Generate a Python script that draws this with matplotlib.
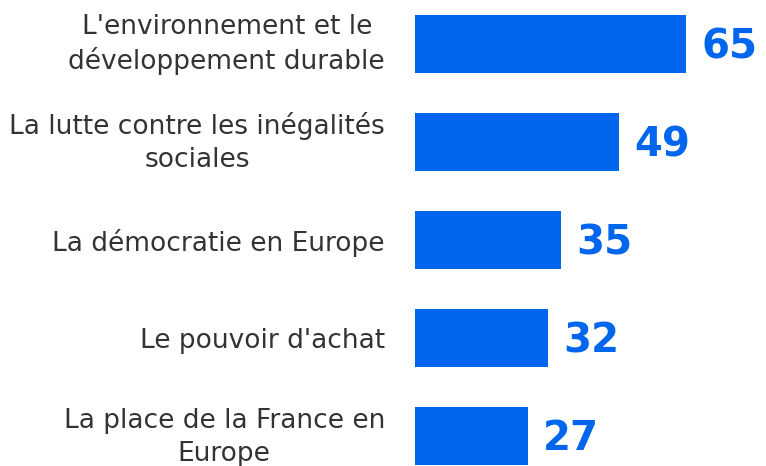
import matplotlib
matplotlib.use("Agg")
import matplotlib.pyplot as plt

categories = [
    "L'environnement et le\nd\u00e9veloppement durable",
    "La lutte contre les in\u00e9galit\u00e9s\nsociales",
    "La d\u00e9mocratie en Europe",
    "Le pouvoir d'achat",
    "La place de la France en\nEurope",
]
values = [65, 49, 35, 32, 27]

BLUE = "#0066ee"
TEXT = "#333333"

fig = plt.figure(figsize=(7.66, 4.66), dpi=100)
ax = fig.add_axes([415/766, 0, 1 - 415/766, 1])
pos = list(range(len(categories)))
bars = ax.barh(pos, values, height=0.59, color=BLUE)
ax.set_xlim(0, 351/4.17)
ax.set_ylim((466-44)/98, -44/98)
ax.set_yticks([])
ax.set_xticks([])
for s in ax.spines.values():
    s.set_visible(False)

for p, lab in zip(pos, categories):
    multi = "\n" in lab
    ax.annotate(lab, xy=(0, p), xycoords=ax.get_yaxis_transform(),
                xytext=(-30, -25 if multi else 0), textcoords="offset pixels",
                ha="right", va="baseline" if multi else "center_baseline",
                multialignment="center", fontsize=19, color=TEXT,
                family="DejaVu Sans", linespacing=1.34, annotation_clip=False)

vlabels = ax.bar_label(bars, labels=[str(v) for v in values], padding=11, fontsize=29,
                       fontweight="bold", color=BLUE, family="DejaVu Sans")
for a in vlabels:
    a.xyann = (a.xyann[0], -2.5)
fig.savefig("out.png", dpi=100)
